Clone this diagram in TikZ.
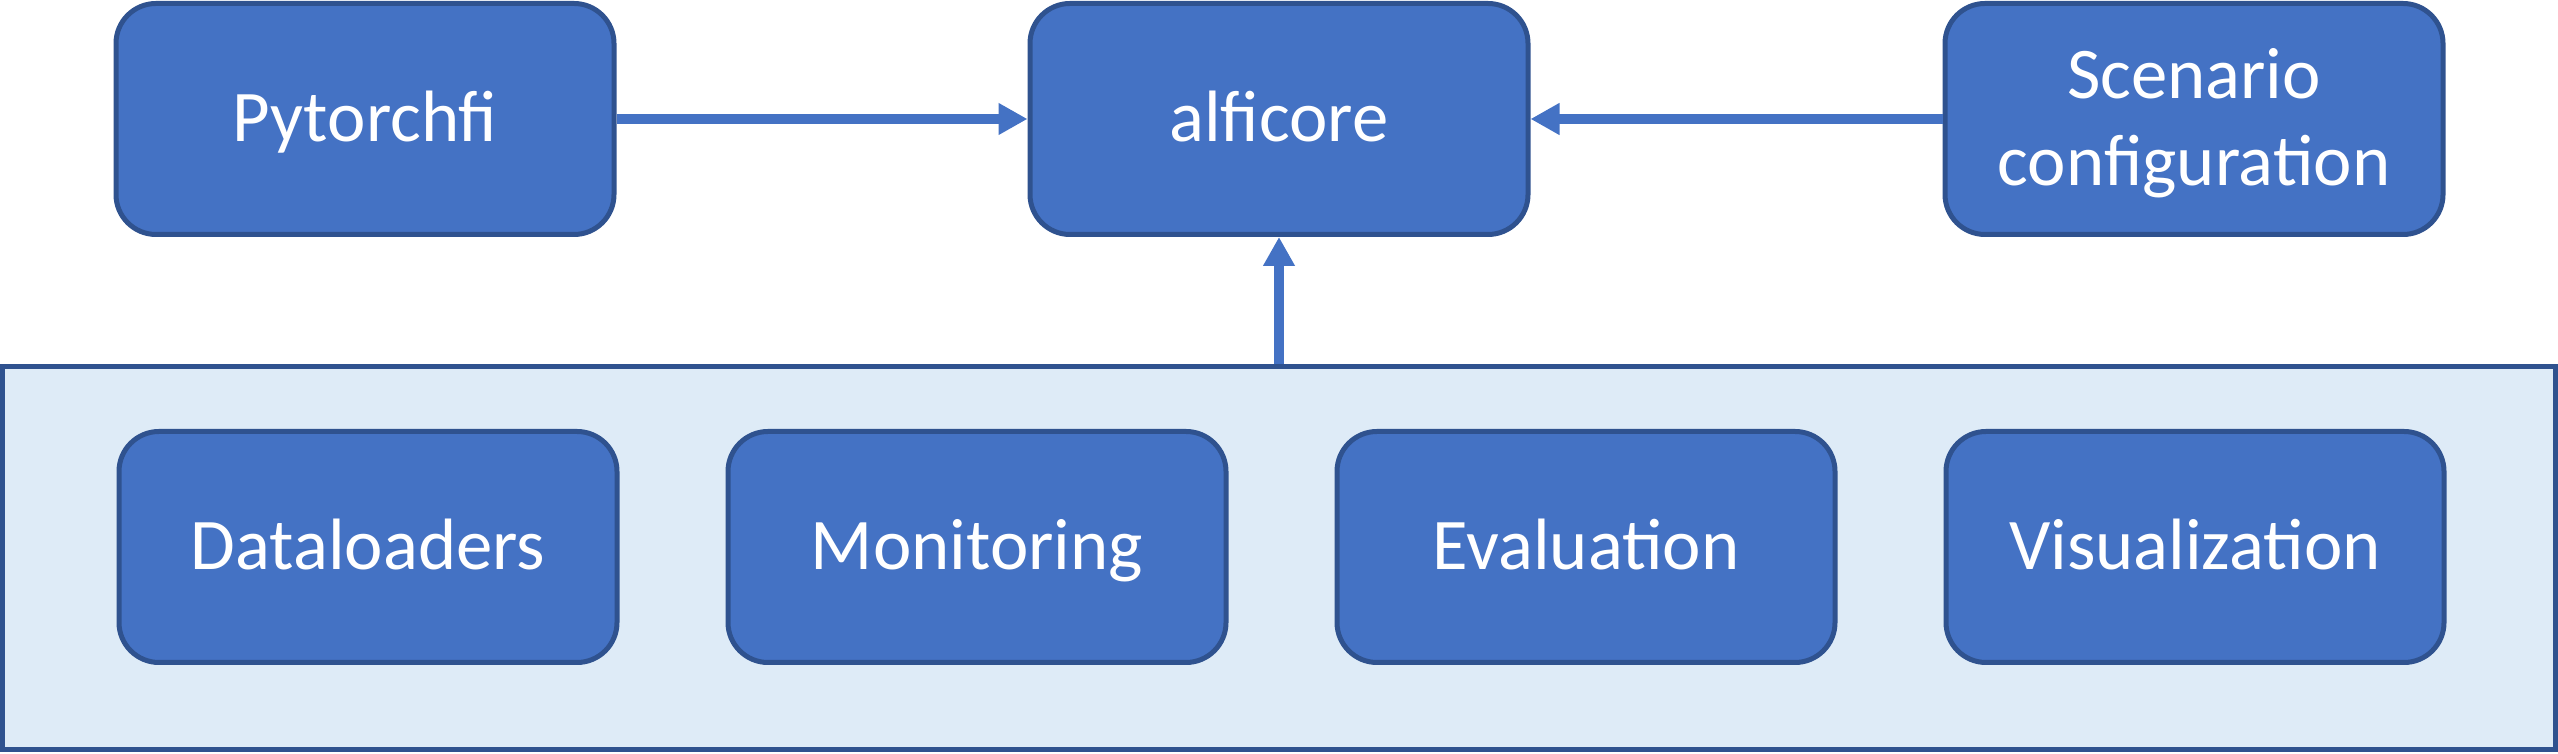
\documentclass[tikz,border=0pt]{standalone}
\usepackage{fontspec}
\setmainfont{Carlito}
\usetikzlibrary{arrows.meta}
\definecolor{boxblue}{HTML}{4472C4}
\definecolor{edgeblue}{HTML}{2F528F}
\definecolor{paleblue}{HTML}{DEEBF7}

\begin{document}
\begin{tikzpicture}[b/.append style={draw=edgeblue,line width=.5mm,fill=boxblue,rounded corners=4mm,minimum width=4.98cm,minimum height=2.31cm,inner sep=0pt,
					text=white,font=\fontsize{20.7}{25}\selectfont,align=center,text height=4.6mm,text depth=0pt},
					f/.append style={draw=edgeblue,line width=.5mm,fill=paleblue,minimum width=25.53cm,minimum height=3.83cm,inner sep=0pt},
					a/.append style={-{Triangle[length=2.9mm,width=3mm]},line width=1mm,color=boxblue}]
\useasboundingbox (0,0) rectangle (25.58,7.54);
\node[f] (tools) at (12.79,1.955) {};
\node[b] (pytorchfi) at (3.65,6.35) {Pytorchfi};
\node[b] (alficore) at (12.79,6.35) {alficore};
\node[b,text height=13.39mm] (scenario) at (21.94,6.35) {Scenario\\configuration};
\node[b] (data) at (3.68,2.07) {Dataloaders};
\node[b] (monitor) at (9.77,2.07) {Monitoring};
\node[b] (eval) at (15.86,2.07) {Evaluation};
\node[b] (visual) at (21.95,2.07) {Visualization};
\draw[a] (pytorchfi) -- (alficore);
\draw[a] (scenario) -- (alficore);
\draw[a] (tools.north) -- (alficore.south);
\end{tikzpicture}
\end{document}
